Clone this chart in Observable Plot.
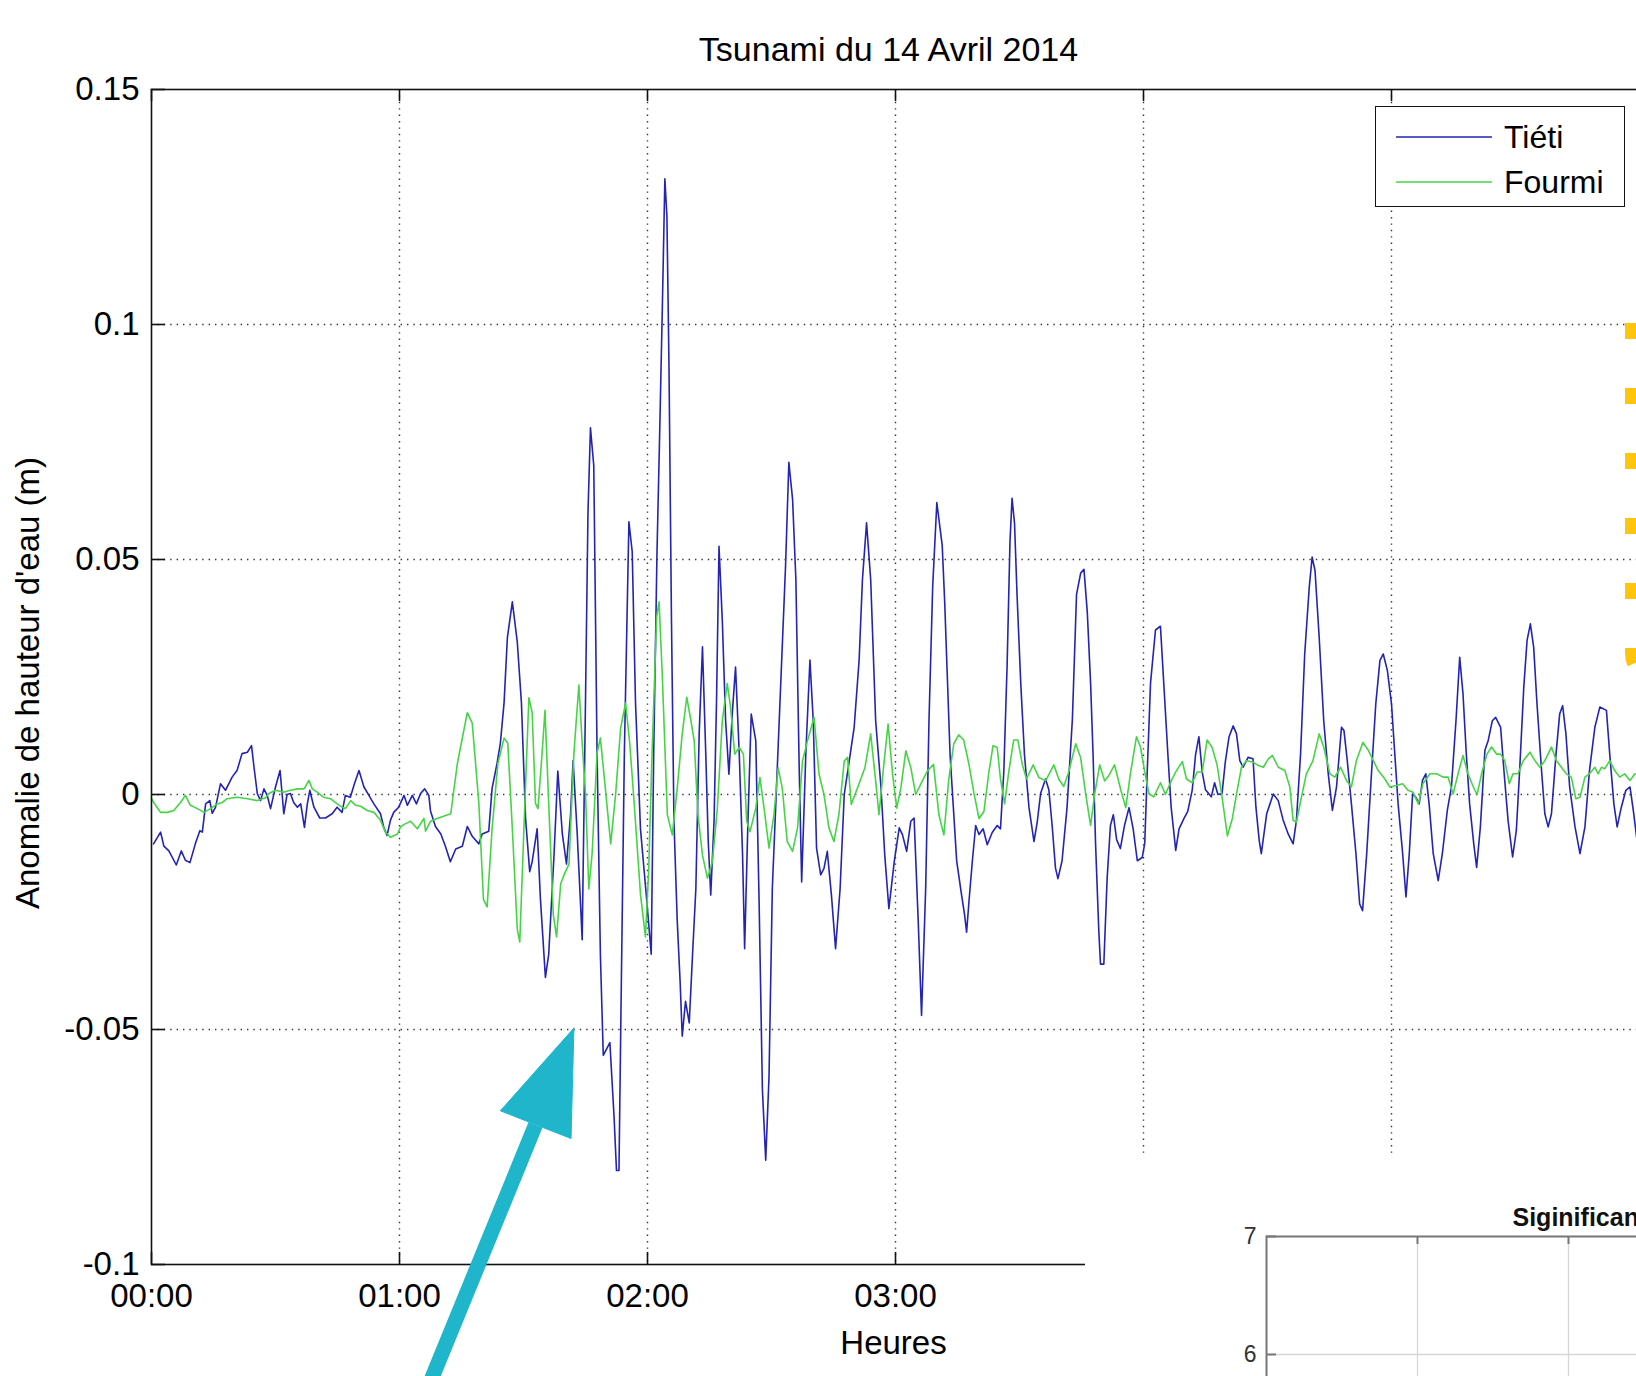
<!DOCTYPE html>
<html>
<head>
<meta charset="utf-8">
<script src="https://cdn.jsdelivr.net/npm/d3@7"></script>
<script src="https://cdn.jsdelivr.net/npm/@observablehq/plot@0.6"></script>
<style>
html, body { margin: 0; padding: 0; background: #fff; overflow: hidden; width: 1636px; height: 1376px; }
#wrap { position: relative; width: 1636px; height: 1376px; overflow: hidden; font-family: "Liberation Sans", Arial, Helvetica, sans-serif; }
#main { position: absolute; left: 0; top: 0; }
#legend { position: absolute; left: 1375px; top: 106px; width: 248px; height: 99px; border: 1.5px solid #111; background: #fff; }
#inset { position: absolute; left: 1085px; top: 1156px; width: 551px; height: 220px; background: #fff; overflow: hidden; }
#deco { position: absolute; left: 0; top: 0; pointer-events: none; }
</style>
</head>
<body>
<div id="wrap">
  <div id="main"></div>
  <div id="legend"></div>
  <div id="inset"></div>
  <svg id="deco" width="1636" height="1376"></svg>
</div>
<script>
// ---------- DATA ----------
const chartTitle = "Tsunami du 14 Avril 2014";
const xLabel = "Heures";
const yLabel = "Anomalie de hauteur d'eau (m)";
const seriesNames = ["Tiéti", "Fourmi"];
const seriesColors = ["#2424b2", "#46d446"];

const xTicks = [0, 60, 120, 180, 240, 300, 360];            // minutes (grid + tick marks)
const xLabelTicks = [0, 60, 120, 180];                      // labels visible (rest hidden by inset)
const xTickLabels = ["00:00", "01:00", "02:00", "03:00"];
const yTicks = [-0.1, -0.05, 0, 0.05, 0.1, 0.15];
const yTickLabels = ["-0.1", "-0.05", "0", "0.05", "0.1", "0.15"];

// Tiéti : [minutes since 00:00, anomaly (m)]
const tieti = [
[0.5,-0.0105],[2.2,-0.008],[3.0,-0.011],[4.2,-0.012],[6.0,-0.015],[7.2,-0.012],[8.2,-0.014],[9.3,-0.0145],[10.6,-0.0105],[11.7,-0.0077],[12.3,-0.008],[13.1,-0.002],[14.1,-0.0013],[14.7,-0.004],[15.5,-0.0027],[16.7,0.0023],[17.9,0.0009],[19.5,0.0037],[20.7,0.0051],[21.9,0.0087],[23.2,0.009],[24.2,0.0104],[24.8,0.0058],[25.6,0.0002],[26.4,-0.0013],[27.2,0.0012],[28.0,-0.0002],[28.8,-0.003],[30.0,0.0016],[31.1,0.0051],[31.6,0.0001],[32.0,-0.0041],[32.8,0.0],[33.6,0.0002],[34.4,-0.0017],[35.3,-0.0027],[36.1,-0.002],[37.0,-0.007],[37.7,-0.002],[38.3,0.0009],[39.3,-0.0027],[40.7,-0.005],[42.1,-0.005],[43.7,-0.0041],[44.9,-0.0027],[46.1,-0.0038],[46.9,-0.0002],[48.1,-0.0006],[49.1,0.0023],[50.2,0.0051],[51.4,0.0016],[52.6,-0.0002],[53.8,-0.002],[55.4,-0.0041],[56.2,-0.007],[57.0,-0.0087],[57.8,-0.0055],[58.6,-0.0038],[59.8,-0.0027],[61.1,-0.0002],[61.9,-0.0023],[63.1,-0.0002],[64.1,-0.002],[65.1,0.0002],[66.1,0.0012],[67.1,-0.0002],
[67.5,-0.0035],[68.7,-0.0068],[70.0,-0.0084],[71.1,-0.011],[72.3,-0.0143],[73.6,-0.0116],[75.2,-0.011],[76.4,-0.0068],[77.6,-0.0089],[79.2,-0.0105],[80.0,-0.0084],[81.6,-0.0078],[82.4,0.0013],[83.6,0.0066],[84.4,0.0109],[85.3,0.0195],[86.1,0.0334],[87.3,0.041],[88.5,0.0324],[89.5,0.0195],[90.5,-0.0051],[91.5,-0.0164],[92.1,-0.0143],[93.3,-0.0073],[94.1,-0.0223],[95.3,-0.0389],[96.1,-0.034],[97.4,-0.0126],[98.3,0.005],[99.4,-0.0084],[100.4,-0.0148],[101.4,-0.0041],[102.0,0.0072],[103.0,-0.0084],[104.2,-0.0309],[105.0,0.02],[105.6,0.06],[106.2,0.078],[107.0,0.070],[107.8,0.0088],[108.6,-0.034],[109.3,-0.0555],[110.9,-0.0528],[111.9,-0.0684],[112.5,-0.080],[113.1,-0.080],[113.6,-0.0448],[114.4,0.0088],[115.5,0.058],[116.3,0.0517],[117.1,0.0195],[118.3,-0.0073],[119.9,-0.0234],[120.9,-0.034],[121.5,0.0088],[122.3,0.0517],[122.9,0.075],[123.6,0.104],[124.2,0.131],[124.7,0.123],[125.2,0.091],[125.8,0.037],[126.4,-0.0057],[127.2,-0.027],[127.9,-0.040],[128.4,-0.0514],[129.2,-0.044],[130.1,-0.0486],[130.9,-0.034],[131.7,-0.020],[132.5,0.0129],[133.3,0.0314],[134.1,0.0086],[134.7,-0.010],[135.3,-0.0214],[136.1,-0.0057],[136.7,0.020],[137.3,0.0528],[138.1,0.037],[138.9,0.0157],[139.7,0.0043],[140.5,0.0171],[141.3,0.0271],[142.2,0.0086],[143.0,-0.0129],[143.5,-0.0328],[144.3,-0.0057],[145.1,0.0171],[146.2,0.0114],[147.0,-0.0228],[147.8,-0.0628],[148.6,-0.0778],[149.4,-0.060],[150.2,-0.020],[151.0,-0.0029],[152.2,0.0228],[153.4,0.0486],[154.2,0.0707],[155.1,0.0628],[155.9,0.0457],[156.7,0.0057],[157.3,-0.0186],[158.3,0.0086],[159.3,0.0286],[160.1,0.0157],[160.9,-0.0114],[161.9,-0.0171],[162.7,-0.0157],[163.5,-0.0121],[164.5,-0.0214],[165.5,-0.0328],[166.6,-0.020],[167.6,0.0],[168.8,0.0071],[170.0,0.0143],[171.2,0.0286],[172.0,0.0457],[173.0,0.0578],[174.0,0.0457],[175.2,0.0157],[176.5,0.0014],[177.4,-0.0129],[178.4,-0.0243],[179.7,-0.0143],[180.9,-0.0071],[181.7,-0.0086],[182.7,-0.0121],[183.7,-0.0057],[184.5,-0.005],[185.5,-0.027],[186.3,-0.047],[187.3,-0.020],[188.1,0.0157],[189.0,0.0443],[190.0,0.0621],
[191.3,0.053],[191.9,0.041],[192.5,0.026],[193.2,0.0085],[194.0,-0.0028],[194.8,-0.0141],[195.9,-0.0209],[196.7,-0.0255],[197.2,-0.0293],[197.8,-0.0225],[198.6,-0.0141],[199.4,-0.0066],[200.2,-0.0085],[201.2,-0.0073],[202.2,-0.0107],[203.4,-0.0081],[204.6,-0.0066],[205.4,-0.0073],[206.2,0.0048],[207.0,0.0274],[207.7,0.0539],[208.2,0.063],[208.8,0.0577],[209.4,0.0426],[210.3,0.0237],[211.2,0.0085],[212.3,-0.0028],[213.5,-0.010],[214.3,-0.0058],[215.1,0.0002],[216.3,0.0033],[217.1,0.001],[217.9,-0.0066],[218.7,-0.0156],[219.3,-0.0179],[220.3,-0.0141],[221.5,-0.0028],[222.8,0.0161],[223.8,0.0426],[224.8,0.0471],[225.6,0.0479],[226.4,0.0388],[227.2,0.0237],[227.8,0.0085],[228.4,-0.0104],[229.2,-0.0293],[229.6,-0.0361],[230.4,-0.0361],[231.2,-0.0179],[232.0,-0.0066],[232.7,-0.0043],[233.5,-0.0096],[234.4,-0.0115],[235.4,-0.0066],[236.5,-0.0028],[237.5,-0.0073],[238.5,-0.0141],[239.7,-0.0134],[240.3,-0.0104],[240.9,0.0048],[241.7,0.0237],[242.9,0.035],[244.1,0.0358],[244.9,0.0237],[245.9,0.0085],[246.7,-0.0028],[247.8,-0.0119],[248.6,-0.0073],[249.8,-0.0051],[250.7,-0.0036],[251.8,0.001],[252.6,0.0085],[253.4,0.0123],[254.2,0.0048],[255.0,0.001],[256.4,-0.0005],[257.2,0.0025],[258.0,0.0],[259.0,0.0002],[259.8,0.007],[260.7,0.0123],[261.7,0.0146],
[262.5,0.0129],[263.3,0.0072],[264.1,0.0058],[265.3,0.0079],[266.5,0.0076],[267.2,-0.0027],[268.0,-0.0098],[268.5,-0.0126],[269.8,-0.0041],[271.4,0.0001],[272.6,-0.0013],[273.8,-0.0055],[275.0,-0.0084],[276.2,-0.0105],[277.0,-0.0055],[278.0,0.0086],[279.0,0.0299],[280.1,0.0441],[280.8,0.0505],[281.5,0.0476],[282.5,0.0335],[283.6,0.0157],[284.7,0.0044],[285.7,-0.0034],[286.7,0.0016],[287.9,0.0143],[288.5,0.0136],[289.3,0.0072],[290.3,-0.002],[291.4,-0.0126],[292.3,-0.0233],[293.0,-0.0247],[294.0,-0.0126],[295.2,0.0051],[296.2,0.0193],[297.2,0.0285],[298.0,0.0299],[299.0,0.0264],[300.0,0.0193],[300.8,0.0086],[301.6,-0.002],[302.7,-0.0126],[303.5,-0.0218],[304.3,-0.0126],[305.1,0.0001],[305.9,-0.0006],[306.7,-0.002],[307.5,0.003],[308.3,0.0044],[309.1,-0.002],[310.1,-0.0126],[311.3,-0.0183],[312.3,-0.0126],[313.5,-0.0034],[314.5,0.0016],[315.6,0.0157],[316.5,0.0292],[317.3,0.0214],[318.1,0.0086],[318.9,-0.002],[319.9,-0.0105],[320.6,-0.0155],[321.5,-0.0069],[322.6,0.0094],[323.4,0.0115],[324.4,0.0157],[325.2,0.0164],[326.4,0.0143],[327.2,0.0051],[328.2,-0.0055],[329.3,-0.0133],[330.2,-0.0077],[331.0,0.0051],[332.0,0.0228],[332.8,0.0328],[333.6,0.0363],[334.4,0.0313],[335.2,0.0193],[336.3,0.0051],[337.1,-0.0041],[337.9,-0.0069],[338.7,-0.0041],[339.8,0.0086],[340.7,0.0172],[341.4,0.0189],[342.2,0.0129],[343.1,0.0016],[344.4,-0.0069],[345.6,-0.0126],[346.8,-0.0069],[347.9,0.0051],[349.2,0.0143],[350.4,0.0186],[352.0,0.0179],[352.8,0.0086],[353.8,-0.002],[354.6,-0.0069],[355.6,-0.0027],[356.7,0.0009],[357.7,0.0016],[358.5,-0.0034],[359.3,-0.0091],[360.0,-0.012]
];

// Fourmi : [minutes since 00:00, anomaly (m)]
const fourmi = [
[0,-0.0009],[1.0,-0.0023],[2.2,-0.0038],[3.8,-0.0038],[5.4,-0.0034],[7.0,-0.0017],[8.2,-0.0002],[9.4,-0.0023],[11.1,-0.003],[12.7,-0.0038],[14.3,-0.003],[15.9,-0.002],[17.1,-0.0017],[18.3,-0.0009],[20.7,-0.0006],[23.2,-0.0009],[25.6,-0.0013],[27.6,-0.0007],[28.4,0.0002],[30.0,0.0009],[32.0,0.0005],[33.6,0.0009],[35.3,0.0012],[36.9,0.0012],[38.1,0.003],[38.9,0.0012],[40.1,0.0005],[41.7,-0.0006],[43.3,-0.0009],[44.9,-0.002],[46.1,-0.0027],[46.9,-0.003],[48.2,-0.0013],[49.4,-0.0023],[50.6,-0.0025],[52.2,-0.0034],[53.8,-0.0038],[55.4,-0.0055],[56.6,-0.008],[57.8,-0.0091],[59.5,-0.0084],
[60.3,-0.0068],[61.5,-0.0062],[62.7,-0.0057],[64.3,-0.0073],[65.9,-0.0051],[66.3,-0.0078],[67.5,-0.0057],[69.1,-0.0051],[72.4,-0.0041],[74.0,0.0066],[76.4,0.0174],[77.6,0.0152],[79.2,-0.0019],[80.3,-0.0223],[81.2,-0.0239],[82.4,-0.0073],[83.8,0.0066],[85.3,0.012],[86.2,0.0109],[87.3,-0.0073],[88.5,-0.0287],[89.1,-0.0314],[90.1,-0.0073],[91.3,0.0206],[92.1,0.0174],[92.9,-0.0019],[93.5,-0.003],[94.5,0.0088],[95.2,0.0179],[96.1,-0.0019],[97.2,-0.0255],[98.0,-0.0303],[99.0,-0.019],[99.9,-0.0169],[101.0,-0.0148],[102.2,0.0088],[103.4,0.0233],[104.2,0.0109],[105.0,0.0002],[105.8,-0.0201],[106.6,-0.0126],[107.8,0.0088],[108.6,0.012],[109.8,0.0013],[111.1,-0.0105],[112.3,0.0002],[113.5,0.0141],[114.7,0.0195],[115.7,0.0109],[116.7,-0.0009],[118.3,-0.0212],[119.5,-0.0303],[120.3,-0.0159],[121.1,0.0088],[122.2,0.0377],[122.8,0.041],[123.6,0.0249],
[124.8,-0.0043],[126.0,-0.0086],[127.2,0.0014],[128.4,0.0129],[129.5,0.0207],[130.5,0.0157],[131.3,0.0114],[132.2,-0.0043],[133.3,-0.0129],[134.5,-0.0178],[135.7,-0.0143],[136.9,-0.0029],[138.1,0.0157],[139.3,0.0236],[140.1,0.0186],[141.1,0.0086],[142.2,0.010],[143.2,0.0086],[144.0,-0.0057],[144.8,-0.0079],[146.2,-0.0029],[147.2,0.0036],[148.4,-0.0043],[149.4,-0.0114],[150.6,-0.0043],[151.6,0.0057],[152.6,0.0014],[153.8,-0.010],[155.1,-0.0121],[156.3,-0.0071],[157.5,0.0071],[158.7,0.0114],[160.3,0.0164],[161.5,0.0043],[162.7,0.0],[163.9,-0.0071],[165.1,-0.010],[166.3,-0.0043],[167.6,0.0071],[168.4,0.0079],[169.3,-0.0021],[170.8,0.0014],[172.6,0.0057],[174.0,0.0129],[175.2,0.0029],[176.0,-0.0043],[177.1,0.0057],[178.2,0.015],[179.3,0.0043],[180.3,-0.0029],[181.3,0.0014],[182.5,0.0093],[183.7,0.0057],[184.9,0.0],[186.5,0.0029],[187.7,0.005],[189.2,0.0064],[190.5,-0.0043],[191.7,-0.0086],
[192.9,0.0033],[194.1,0.0108],[195.3,0.0127],[196.5,0.0116],[197.8,0.0063],[199.0,0.0002],[200.2,-0.0051],[201.4,-0.0036],[202.6,0.0048],[203.6,0.0104],[204.6,0.010],[205.4,0.0033],[206.4,-0.002],[207.4,0.0048],[208.6,0.0116],[209.6,0.0116],[210.7,0.0063],[211.7,0.0033],[213.3,0.0063],[214.7,0.0036],[216.3,0.0029],[218.3,0.0063],[219.5,0.0033],[220.7,0.0017],[221.9,0.0048],[223.6,0.0108],[224.8,0.0078],[226.0,0.0002],[227.2,-0.0066],[228.2,0.0002],[229.4,0.0063],[230.6,0.0029],[231.6,0.004],[233.0,0.0063],[234.5,0.001],[235.7,-0.0028],[236.9,0.0048],[238.3,0.0123],[239.3,0.010],[240.3,0.0048],[241.3,0.0002],[242.5,-0.0005],[244.1,0.0025],[245.3,0.0],[246.5,0.0025],[247.8,0.0048],[249.4,0.007],[250.4,0.0033],[251.8,0.0025],[253.0,0.0048],[254.2,0.0048],[255.4,0.0116],[256.6,0.010],[257.8,0.0063],[259.0,-0.0005],[260.3,-0.0088],[261.5,-0.0051],
[262.5,0.0001],[263.7,0.0058],[264.9,0.0072],[266.5,0.0069],[267.7,0.0062],[269.0,0.0058],[270.2,0.0076],[271.2,0.0083],[272.6,0.0058],[274.2,0.0051],[275.4,0.0016],[276.2,-0.0055],[277.0,-0.0059],[278.2,-0.0006],[279.4,0.0044],[281.0,0.0072],[282.5,0.0129],[283.6,0.0101],[285.1,0.0044],[286.3,0.0037],[287.7,0.0058],[289.1,0.003],[290.3,0.0016],[291.5,0.0072],[293.1,0.0111],[294.4,0.0094],[295.6,0.0072],[296.8,0.0051],[298.4,0.0033],[299.6,0.0016],[301.2,0.0019],[302.7,0.0023],[304.0,0.0009],[305.2,0.0005],[306.5,-0.002],[307.6,0.0023],[309.3,0.0044],[310.9,0.0044],[312.5,0.0037],[313.7,0.0037],[314.9,0.0001],[316.1,0.0044],[317.3,0.0083],[318.5,0.0044],[319.8,0.0016],[320.7,0.0],[321.8,0.0044],[323.1,0.0086],[324.2,0.0101],[325.4,0.0086],[326.4,0.0086],[327.4,0.0072],[328.5,0.0023],[329.4,0.0044],[330.6,0.0044],[331.9,0.0072],[333.5,0.009],[334.7,0.0072],[335.9,0.0058],[337.1,0.0072],[338.7,0.0101],[339.9,0.0072],[341.1,0.0058],[342.3,0.0044],[343.5,0.0037],[344.6,-0.0009],[345.6,-0.0006],[346.8,0.0037],[347.9,0.0044],[349.2,0.0058],[350.0,0.0044],[350.8,0.0058],[351.6,0.0055],[352.8,0.0072],[354.0,0.0051],[355.2,0.0037],[356.4,0.0044],[357.7,0.003],[358.9,0.0044],[360.0,0.004]
];

// Annotation arrow (data coordinates: minutes, metres)
const arrowShaft = [{t1: 62.8, v1: -0.135, t2: 92.9, v2: -0.0703}];
const arrowHead = [[102.2, -0.0497], [84.4, -0.0673], [101.5, -0.0732], [102.2, -0.0497]];
const arrowColor = "#1fb6cb";

// Inset (partially visible second figure)
const insetTitle = "Siginificant Wave Height";
const insetXTicks = [1, 2, 3];
const insetYTicks = [6, 7];
const insetYTickLabels = ["6", "7"];

// ---------- MAIN CHART ----------
const FONT = "Liberation Sans, Arial, Helvetica, sans-serif";
const W = 1650, H = 1376;
const mL = 151, mR = 11, mT = 89, mB = 112;
const frameW = W - mL - mR, frameH = H - mT - mB;
const gridStyle = {stroke: "#000", strokeOpacity: 0.8, strokeWidth: 1.4, strokeDasharray: "1.4,5"};

const main = Plot.plot({
  width: W, height: H,
  marginLeft: mL, marginRight: mR, marginTop: mT, marginBottom: mB,
  x: {domain: [0, 360], axis: null},
  y: {domain: [-0.1, 0.15], axis: null},
  style: {fontFamily: FONT, fontSize: "33px", color: "#000", background: "#fff", maxWidth: "none", overflow: "visible"},
  marks: [
    Plot.gridX(xTicks.slice(1, -1), gridStyle),
    Plot.gridY(yTicks.slice(1, -1), gridStyle),
    Plot.line(tieti, {x: d => d[0], y: d => d[1], stroke: seriesColors[0], strokeWidth: 1.6}),
    Plot.line(fourmi, {x: d => d[0], y: d => d[1], stroke: seriesColors[1], strokeWidth: 1.6}),
    Plot.frame({stroke: "#111", strokeWidth: 1.6}),
    // inward ticks (bottom, top, left)
    Plot.ruleX(xTicks, {x: d => d, insetTop: frameH - 12, stroke: "#111", strokeWidth: 1.6}),
    Plot.ruleX(xTicks, {x: d => d, insetBottom: frameH - 12, stroke: "#111", strokeWidth: 1.6}),
    Plot.ruleY(yTicks, {y: d => d, insetRight: frameW - 14, stroke: "#111", strokeWidth: 1.6}),
    Plot.axisX(xLabelTicks, {tickSize: 0, tickPadding: 19, label: null, tickFormat: d => xTickLabels[xLabelTicks.indexOf(d)]}),
    Plot.axisY(yTicks, {tickSize: 0, tickPadding: 12, label: null, tickFormat: d => yTickLabels[yTicks.indexOf(d)]}),
    Plot.text([chartTitle], {frameAnchor: "top", dx: -7, dy: -39, lineAnchor: "middle", fontSize: 34}),
    Plot.text([xLabel], {frameAnchor: "bottom", dx: -2, dy: 79, lineAnchor: "middle", fontSize: 33}),
    Plot.text([yLabel], {frameAnchor: "left", dx: -123, dy: 6, rotate: -90, textAnchor: "middle", lineAnchor: "middle", fontSize: 33}),
    // annotation arrow
    Plot.link(arrowShaft, {x1: "t1", y1: "v1", x2: "t2", y2: "v2", stroke: arrowColor, strokeWidth: 15}),
    Plot.line(arrowHead, {x: d => d[0], y: d => d[1], fill: arrowColor, stroke: arrowColor, strokeWidth: 1})
  ]
});
document.getElementById("main").appendChild(main);

// ---------- LEGEND ----------
(function () {
  const ns = "http://www.w3.org/2000/svg";
  const svg = document.createElementNS(ns, "svg");
  svg.setAttribute("width", 248); svg.setAttribute("height", 99);
  const rows = [30, 75];
  seriesNames.forEach((name, i) => {
    const l = document.createElementNS(ns, "line");
    l.setAttribute("x1", 20); l.setAttribute("x2", 116);
    l.setAttribute("y1", rows[i]); l.setAttribute("y2", rows[i]);
    l.setAttribute("stroke", seriesColors[i]); l.setAttribute("stroke-width", 1.6);
    svg.appendChild(l);
    const t = document.createElementNS(ns, "text");
    t.setAttribute("x", 128); t.setAttribute("y", rows[i]);
    t.setAttribute("dy", "0.35em");
    t.setAttribute("font-family", FONT); t.setAttribute("font-size", 32);
    t.textContent = name;
    svg.appendChild(t);
  });
  document.getElementById("legend").appendChild(svg);
})();

// ---------- INSET ----------
const iW = 181 + 4 * 151, iH = 80 + 4 * 118;
const inset = Plot.plot({
  width: iW, height: iH,
  marginLeft: 181, marginRight: 0, marginTop: 80, marginBottom: 0,
  x: {domain: [0, 4], axis: null},
  y: {domain: [3, 7], axis: null},
  style: {fontFamily: FONT, fontSize: "23px", color: "#333", background: "#fff", maxWidth: "none", overflow: "visible"},
  marks: [
    Plot.gridX(insetXTicks, {stroke: "#d6d6d6", strokeOpacity: 1, strokeWidth: 1.3}),
    Plot.gridY([6], {stroke: "#d6d6d6", strokeOpacity: 1, strokeWidth: 1.3}),
    Plot.frame({stroke: "#777", strokeWidth: 2}),
    Plot.ruleX(insetXTicks, {x: d => d, insetBottom: 4 * 118 - 8, stroke: "#777", strokeWidth: 2}),
    Plot.ruleY(insetYTicks, {y: d => d, insetRight: 4 * 151 - 10, stroke: "#777", strokeWidth: 2}),
    Plot.axisY(insetYTicks, {tickSize: 0, tickPadding: 10, label: null, tickFormat: d => insetYTickLabels[insetYTicks.indexOf(d)]}),
    Plot.text([insetTitle], {frameAnchor: "top-left", dx: 246, dy: -19, textAnchor: "start", lineAnchor: "middle", fontWeight: "bold", fontSize: 25, fill: "#111"})
  ]
});
document.getElementById("inset").appendChild(inset);

// ---------- Decorative dashed highlight (cropped, right edge) ----------
(function () {
  const ns = "http://www.w3.org/2000/svg";
  const p = document.createElementNS(ns, "path");
  p.setAttribute("d", "M1631,323 V652 Q1631,676 1656,676");
  p.setAttribute("fill", "none");
  p.setAttribute("stroke", "#fec50a");
  p.setAttribute("stroke-width", 12);
  p.setAttribute("stroke-dasharray", "16 49");
  document.getElementById("deco").appendChild(p);
})();
</script>
</body>
</html>
